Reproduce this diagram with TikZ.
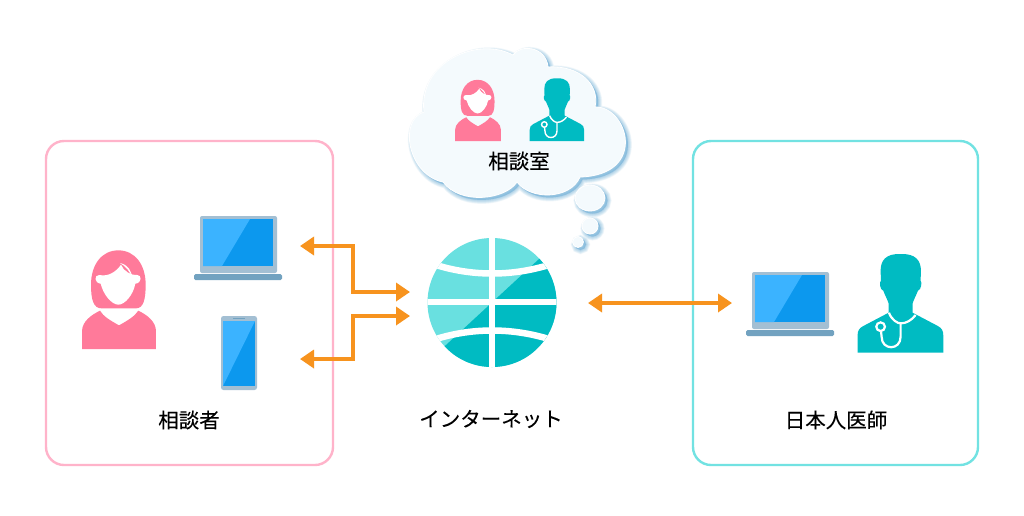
\documentclass[tikz,border=0pt]{standalone}
\usepackage{fontspec}
\setmainfont{Noto Sans CJK JP}[FakeBold=0.12]
\usetikzlibrary{arrows.meta}
\definecolor{pinkc}{HTML}{FF7A9A}
\definecolor{pinkb}{HTML}{FFB3CA}
\definecolor{tealc}{HTML}{00BBC2}
\definecolor{tealb}{HTML}{72E2E2}
\definecolor{teall}{HTML}{69E0E0}
\definecolor{orangec}{HTML}{F7931E}
\definecolor{scrl}{HTML}{3BB3FF}
\definecolor{scrd}{HTML}{0C98EE}
\definecolor{framec}{HTML}{A3BFD3}
\definecolor{basec}{HTML}{72A2C0}
\definecolor{cloudf}{HTML}{F4FAFD}
\definecolor{clouds}{HTML}{5FA8D6}
\newcommand{\cloudpath}{(424,112) .. controls (418,62) and (478,36) .. (513,55)
  .. controls (520,44) and (546,46) .. (548,67)
  .. controls (580,65) and (600,85) .. (595,107)
  .. controls (628,106) and (648,175) .. (580,177)
  .. controls (570,200) and (530,200) .. (517,182)
  .. controls (505,200) and (460,205) .. (443,182)
  .. controls (408,175) and (398,120) .. (424,112) -- cycle
  (590,198) ellipse [x radius=15,y radius=13]
  (590,226) ellipse [x radius=8,y radius=8]
  (578,242) ellipse [x radius=5.5,y radius=5.5]}
\tikzset{
  frameline/.style={draw=#1,line width=2.4pt,rounded corners=18pt},
  lbl/.style={font=\fontsize{20.5}{24}\selectfont,text=black,inner sep=0pt},
  link/.style={draw=orangec,line width=4.2pt,{Triangle[length=14pt,width=18pt]}-{Triangle[length=14pt,width=18pt]}},
  pics/woman/.style={code={
    \begin{scope}[shift={(-177,-448)}]
    \fill[pinkc] (66,448) -- (66,395) .. controls (66,365) and (95,345) .. (120,333)
      .. controls (130,350) and (150,362) .. (177,377)
      .. controls (204,362) and (224,350) .. (235,333)
      .. controls (260,345) and (288,365) .. (288,395) -- (288,448) -- cycle;
    \fill[pinkc] (175,152) .. controls (125,152) and (93,195) .. (93,255)
      .. controls (93,300) and (100,326) .. (125,326) -- (228,326)
      .. controls (250,326) and (257,300) .. (257,255)
      .. controls (257,195) and (225,152) .. (175,152) -- cycle;
    \fill[white] (118,226) .. controls (145,232) and (170,215) .. (183,195)
      .. controls (190,215) and (215,228) .. (232,226)
      .. controls (245,225) and (247,250) .. (226,252)
      .. controls (220,285) and (195,315) .. (175,315)
      .. controls (155,315) and (130,285) .. (122,252)
      .. controls (102,250) and (102,225) .. (118,226) -- cycle;
    \fill[white] (180,190) .. controls (205,195) and (215,215) .. (217,235)
      .. controls (210,215) and (197,200) .. (180,190) -- cycle;
    \end{scope}
  }},
  pics/doctor/.style={code={
    \begin{scope}[shift={(-497,-338)}]
    \fill[tealc] (497,42) .. controls (452,40) and (437,62) .. (437,92) -- (438,122)
      .. controls (432,125) and (435,150) .. (445,152)
      .. controls (450,165) and (458,180) .. (461,190) -- (461,218)
      -- (385,258) .. controls (373,264) and (368,272) .. (368,285) -- (368,338) -- (625,338) -- (625,285)
      .. controls (625,272) and (620,264) .. (609,258) -- (533,218) -- (533,190)
      .. controls (536,180) and (544,165) .. (549,152)
      .. controls (559,150) and (562,125) .. (557,122) -- (558,92)
      .. controls (558,62) and (542,40) .. (497,42) -- cycle;
    \draw[white,line width=#1] (462,218) .. controls (470,240) and (488,250) .. (497,250)
      .. controls (515,250) and (530,240) .. (542,225);
    \draw[white,line width=#1] (497,250) -- (497,290) .. controls (497,332) and (440,332) .. (440,290) -- (438,272);
    \draw[white,line width=#1] (437,260) circle [radius=13];
    \end{scope}
  }},
  pics/laptop/.style={code={
    \fill[framec,rounded corners=2pt] (0,0) rectangle (77,57);
    \fill[basec,rounded corners=1.5pt] (-6,58) rectangle (82,64);
    \fill[scrd] (3,3) rectangle (73,50);
    \fill[scrl] (3,3) -- (50,3) -- (22,50) -- (3,50) -- cycle;
  }}
}
\begin{document}
\begin{tikzpicture}[x=1pt,y=-1pt]
\useasboundingbox (0,0) rectangle (1024,515);
\fill[white] (0,0) rectangle (1024,515);
% frames
\draw[frameline=pinkb] (46,141) rectangle (333,465);
\draw[frameline=tealb] (693,141) rectangle (978,465);
% cloud
\foreach \w in {8,7,6,5,4,3,2,1}
  \draw[clouds,fill=clouds,opacity=.075,line width=\w pt,shift={(2.5,2.5)}] \cloudpath;
\draw[white,line width=.8pt,fill=cloudf] \cloudpath;
\pic at (478,141) [scale=.2067] {woman};
\pic at (557,141) [scale=.2117] {doctor=1.4pt};
\node[lbl] (room) at (519,161) {相談室};
% left person and devices
\pic at (119,349) [scale=.3333] {woman};
\pic at (200,216) {laptop};
\fill[framec,rounded corners=2.5pt] (221,316) rectangle (257,390);
\fill[scrd] (223,321) rectangle (255,386);
\fill[scrl] (223,321) -- (255,321) -- (223,386) -- cycle;
\fill[basec] (233,317.5) rectangle (245,319);
\node[lbl] (client) at (189,420) {相談者};
% globe
\begin{scope}
  \clip (492,302.5) circle [radius=64.5];
  \fill[teall] (420,230) rectangle (565,375);
  \fill[tealc] (565,235) -- (565,375) -- (420,375) -- (420,369) -- cycle;
  \draw[white,line width=6.5pt] (492,230) -- (492,375);
  \draw[white,line width=6.5pt] (420,302) -- (565,302);
  \draw[white,line width=6.5pt] (430,263) .. controls (470,277) and (514,277) .. (555,263);
  \draw[white,line width=6.5pt] (430,341) .. controls (470,327) and (514,327) .. (555,341);
\end{scope}
\node[lbl] (net) at (491,419) {インターネット};
% right person and laptop
\pic at (752,272) {laptop};
\pic at (900.6,352.7) [scale=.3333] {doctor=2.2pt};
\node[lbl] (doc) at (836,420) {日本人医師};
% connectors
\coordinate (lapin) at (300,246);
\coordinate (phonein) at (300,359);
\coordinate (netA) at (410,292);
\coordinate (netB) at (410,316);
\coordinate (netC) at (588,303);
\coordinate (docin) at (732,303);
\draw[link,-{Triangle[length=14pt,width=18pt]}] (353,292) -- (netA);
\draw[link,-{Triangle[length=14pt,width=18pt]}] (353,316) -- (netB);
\draw[link,{Triangle[length=14pt,width=18pt]}-,line join=miter] (lapin) -- (353,246) -- (353,292) -- (355,292);
\draw[link,{Triangle[length=14pt,width=18pt]}-,line join=miter] (phonein) -- (353,359) -- (353,316) -- (355,316);
\draw[link] (netC) -- (docin);
\end{tikzpicture}
\end{document}
